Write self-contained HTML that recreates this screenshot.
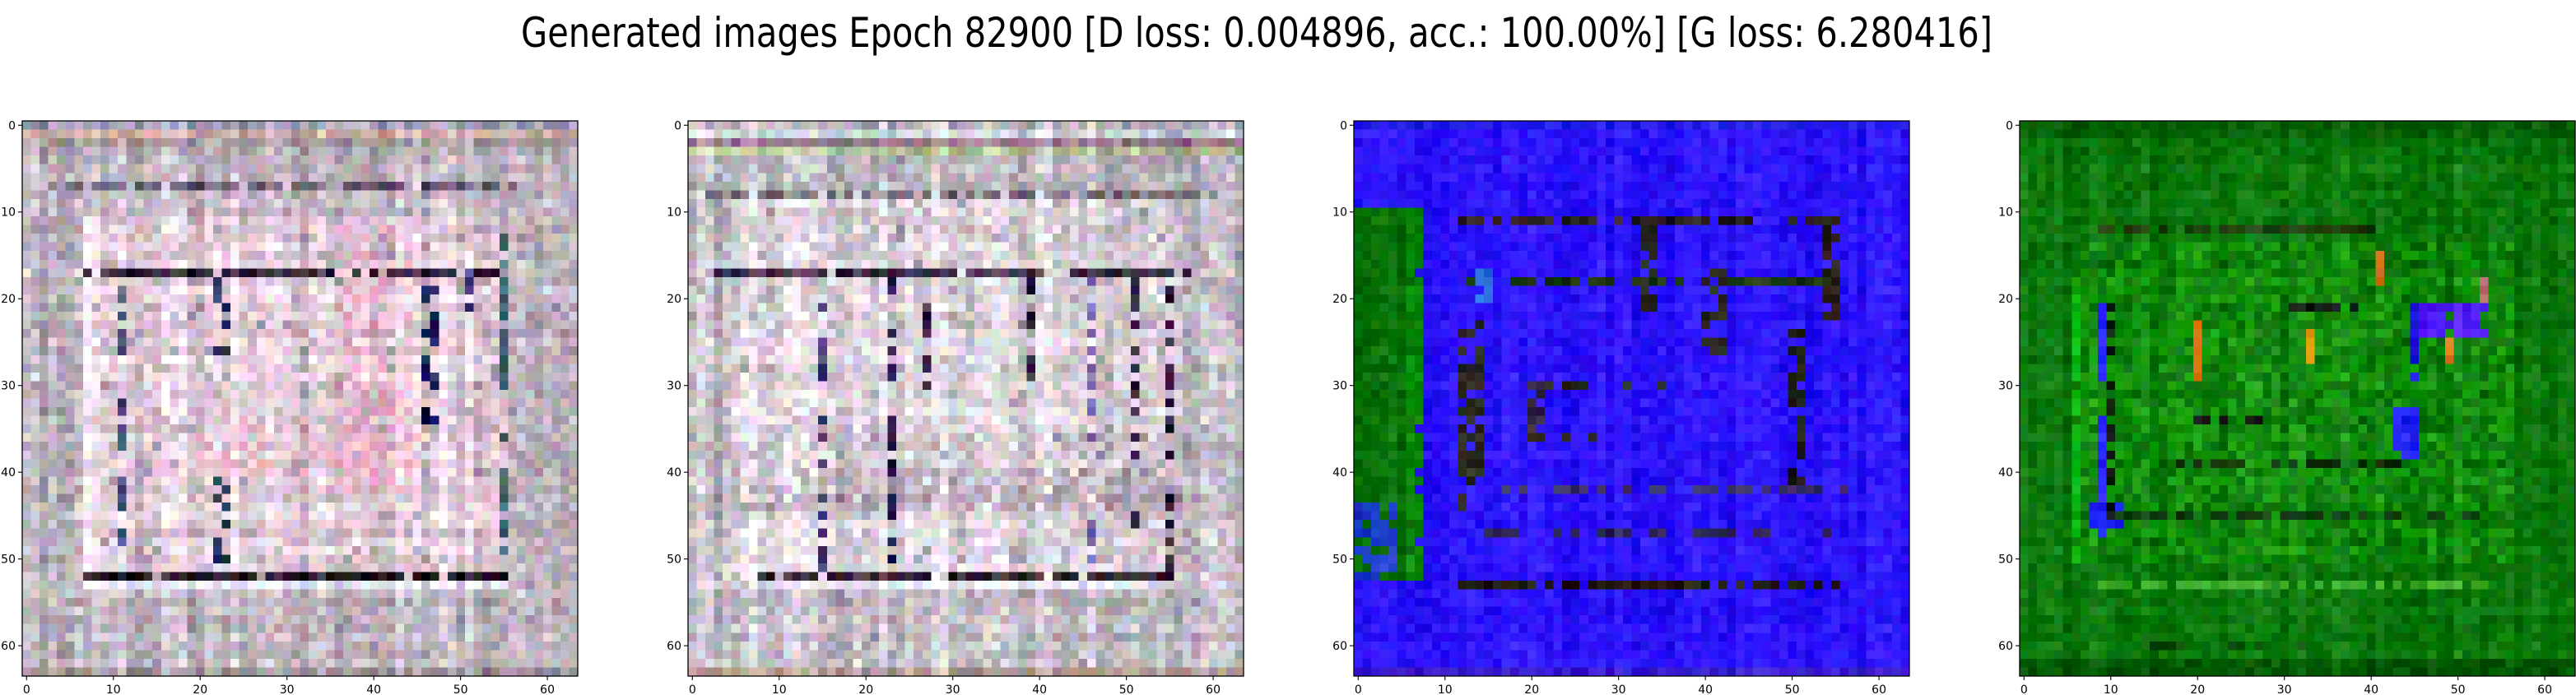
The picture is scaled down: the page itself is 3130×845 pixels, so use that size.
<!DOCTYPE html>
<html><head><meta charset="utf-8">
<style>
html,body{margin:0;padding:0;background:#fff;}
#root{position:relative;width:3130px;height:845px;overflow:hidden;background:#fff;font-family:"DejaVu Sans","Liberation Sans",sans-serif;}
canvas.img{position:absolute;width:675px;height:675px;image-rendering:pixelated;image-rendering:crisp-edges;}
svg{position:absolute;left:0;top:0;}
</style></head>
<body>
<div id="root">
<canvas class="img" id="c0" width="64" height="64" style="left:27px;top:147px"></canvas>
<canvas class="img" id="c1" width="64" height="64" style="left:836px;top:147px"></canvas>
<canvas class="img" id="c2" width="64" height="64" style="left:1645px;top:147px"></canvas>
<canvas class="img" id="c3" width="64" height="64" style="left:2454px;top:147px"></canvas>
<svg id="ov" width="3130" height="845">
<text x="1527" y="57" text-anchor="middle" font-size="50" textLength="1788" lengthAdjust="spacingAndGlyphs" fill="#000">Generated images Epoch 82900 [D loss: 0.004896, acc.: 100.00%] [G loss: 6.280416]</text>
</svg>
</div>
<script>
const panelLefts=[27,836,1645,2454];
const panelTop=147, panelSize=675;
const tickValues=[0,10,20,30,40,50,60];
const tickLabels=["0","10","20","30","40","50","60"];
const baseColors=[[192,182,192],[194,188,196],[44,20,250],[10,118,10]];
const noiseAmp=[50,52,28,28];
const colNoiseAmp=[40,40,20,22];
const overlays=[
 [
  [0,0,63,0,170,165,190,1],[0,1,63,1,215,180,175,1],[0,2,63,2,160,150,150,1],
  [3,7,56,7,100,85,105,0.8],
  [7,11,55,52,232,210,222,0.85],
  [7,11,7,52,250,240,250,1],
  [7,17,55,17,50,35,55,0.85],
  [7,52,55,52,30,20,35,0.9],[7,53,55,53,235,235,250,1],
  [11,18,11,51,60,70,110,0.6],[22,18,23,26,50,60,100,0.5],[22,41,23,51,40,60,90,0.5],
  [46,17,47,34,30,30,100,0.6],[51,17,51,24,40,30,110,0.6],[55,13,55,52,70,110,120,0.6],
  [36,12,44,42,245,190,215,0.5],[20,35,45,40,245,190,210,0.5],
  [0,63,63,63,160,150,155,1]
 ],
 [
  [0,1,63,1,200,210,212,1],[0,2,63,2,160,130,150,1],[0,3,63,3,180,190,150,1],
  [2,8,60,8,120,110,120,0.8],
  [5,9,56,52,224,214,222,0.85],
  [3,17,57,17,60,40,70,0.8],
  [8,52,55,52,50,30,45,0.85],[10,53,55,53,232,232,248,1],
  [15,18,15,51,70,55,110,0.5],[23,18,23,51,50,35,90,0.5],[27,18,27,30,60,40,80,0.5],
  [39,18,39,30,60,50,90,0.5],[46,17,46,51,100,80,160,0.5],[51,17,51,51,50,30,60,0.5],[55,17,55,51,50,30,60,0.5],
  [5,40,56,44,185,170,185,0.6],
  [0,63,63,63,170,150,140,1]
 ],
 [
  [0,10,6,52,5,110,5,1],[6,10,7,52,10,140,10,0.9],[0,44,4,52,30,60,200,0.8],
  [12,11,55,11,40,30,30,0.7],
  [12,18,55,18,30,60,20,0.75],
  [12,23,14,44,40,40,30,0.7],
  [20,30,35,30,40,40,30,0.7],[20,30,21,36,50,30,60,0.7],[20,36,27,36,40,30,20,0.7],
  [33,11,34,21,40,40,30,0.7],[40,17,42,26,40,40,30,0.6],
  [50,23,51,42,30,30,20,0.7],[54,11,55,22,40,30,20,0.7],
  [12,53,56,53,40,30,20,0.75],[12,47,56,47,50,40,90,0.5],[12,42,56,42,60,50,110,0.5],
  [14,17,15,20,40,110,220,0.6],
  [0,0,63,0,30,25,230,1],[0,63,63,63,60,30,210,1]
 ],
 [
  [0,0,63,1,0,95,0,1],[0,62,63,63,0,90,0,1],
  [9,12,40,12,30,60,10,0.8],
  [6,14,56,50,20,150,10,0.5],
  [6,20,6,50,10,185,20,0.9],
  [9,21,9,29,35,35,250,1],[9,34,9,47,35,35,250,1],[8,44,11,46,30,30,250,0.9],[10,21,10,47,20,30,20,0.6],
  [45,21,53,24,80,30,250,0.9],[45,21,45,29,40,30,230,0.9],
  [43,33,45,38,40,40,250,0.9],
  [20,23,20,29,215,110,10,1],[33,24,33,27,215,150,10,1],[41,15,41,18,190,100,10,1],[49,25,49,27,230,140,40,1],[53,18,53,20,190,120,120,1],
  [30,21,38,21,20,30,20,0.7],[20,34,28,34,20,30,20,0.7],[17,39,44,39,15,50,10,0.5],[11,45,53,45,15,60,15,0.5],
  [8,53,55,53,60,170,40,0.6],[14,60,35,60,10,70,10,0.3]
 ]
];
function h(a,b,c){let x=(a*374761393+b*668265263+c*2147483647)|0;x=(x^(x>>>13))*1274126177|0;x^=x>>>16;return ((x>>>0)%10000)/10000;}
for(let p=0;p<4;p++){
  const cv=document.getElementById('c'+p),ctx=cv.getContext('2d'),im=ctx.createImageData(64,64);
  for(let r=0;r<64;r++)for(let c=0;c<64;c++){
    let col=baseColors[p].slice();
    for(const o of overlays[p]){
      if(c>=o[0]&&c<=o[2]&&r>=o[1]&&r<=o[3]&&h(p*7+1,r,c*3+o[0])<o[7]){col=[o[4],o[5],o[6]];}
    }
    const A=noiseAmp[p];
    const n=(h(p,r,c)-0.5)*A+(h(p+50,0,c)-0.5)*colNoiseAmp[p]+(h(p+60,r,0)-0.5)*colNoiseAmp[p]*0.5;
    for(let k=0;k<3;k++){
      let v=col[k]+n+(h(p+11*k,r*5,c)-0.5)*A*0.8;
      im.data[(r*64+c)*4+k]=Math.max(0,Math.min(255,v));
    }
    im.data[(r*64+c)*4+3]=255;
  }
  ctx.putImageData(im,0,0);
}
const ov=document.getElementById('ov'),NS='http://www.w3.org/2000/svg';
const sc=v=>(v+0.5)/64*panelSize;
for(let p=0;p<4;p++){
  const L=panelLefts[p];
  const fr=document.createElementNS(NS,'rect');
  fr.setAttribute('x',L);fr.setAttribute('y',panelTop);fr.setAttribute('width',panelSize);fr.setAttribute('height',panelSize);
  fr.setAttribute('fill','none');fr.setAttribute('stroke','#000');fr.setAttribute('stroke-width','1.3');
  
  
  ov.appendChild(fr);
  tickValues.forEach((v,i)=>{
    const x=L+sc(v), y=panelTop+sc(v);
    const tx=document.createElementNS(NS,'line');
    tx.setAttribute('x1',x);tx.setAttribute('x2',x);tx.setAttribute('y1',panelTop+panelSize);tx.setAttribute('y2',panelTop+panelSize+5);tx.setAttribute('stroke','#000');tx.setAttribute('stroke-width','1.1');
    
    
    ov.appendChild(tx);
    const lx=document.createElementNS(NS,'text');
    lx.setAttribute('x',x);lx.setAttribute('y',panelTop+panelSize+21);lx.setAttribute('text-anchor','middle');lx.setAttribute('font-size','14');
    lx.textContent=tickLabels[i];
    
    
    ov.appendChild(lx);
    const ty=document.createElementNS(NS,'line');
    ty.setAttribute('x1',L-5);ty.setAttribute('x2',L);ty.setAttribute('y1',y);ty.setAttribute('y2',y);ty.setAttribute('stroke','#000');ty.setAttribute('stroke-width','1.1');
    
    
    ov.appendChild(ty);
    const ly=document.createElementNS(NS,'text');
    ly.setAttribute('x',L-8);ly.setAttribute('y',y+5);ly.setAttribute('text-anchor','end');ly.setAttribute('font-size','14');
    ly.textContent=tickLabels[i];
    
    
    ov.appendChild(ly);
  });
}
</script>
</body></html>
